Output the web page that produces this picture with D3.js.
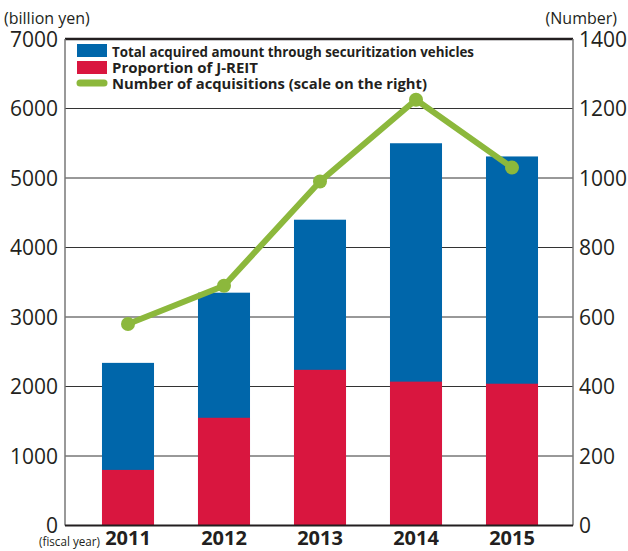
<!DOCTYPE html>
<html>
<head>
<meta charset="utf-8">
<script src="https://cdn.jsdelivr.net/npm/d3@7"></script>
<style>
  body { margin: 0; background: #fff; }
  text { font-family: "Open Sans", "Noto Sans", sans-serif; fill: #231f20; }
</style>
</head>
<body>
<div id="app"></div>
<script>
const years = ["2011", "2012", "2013", "2014", "2015"];
const totalAmount = [2340, 3350, 4400, 5500, 5310];
const jreitAmount = [800, 1550, 2240, 2070, 2040];
const acquisitions = [580, 690, 990, 1225, 1030];
const leftTicks = [0, 1000, 2000, 3000, 4000, 5000, 6000, 7000];
const rightTicks = [0, 200, 400, 600, 800, 1000, 1200, 1400];
const legendLabels = [
  "Total acquired amount through securitization vehicles",
  "Proportion of J-REIT",
  "Number of acquisitions (scale on the right)"
];

const width = 628, height = 551;
const plotLeft = 65, plotRight = 573, plotTop = 39, plotBottom = 525.5;
const blue = "#0066aa", red = "#d9163f", green = "#8cb83c";

const svg = d3.select("#app").append("svg")
  .attr("width", width).attr("height", height);

const x = d3.scaleBand().domain(years).range([80, 560])
  .paddingInner(0.458).paddingOuter(0.229);
const y = d3.scaleLinear().domain([0, 7000]).range([plotBottom, plotTop]);
const y2 = d3.scaleLinear().domain([0, 1400]).range([plotBottom, plotTop]);

// gridlines
svg.append("g").selectAll("line")
  .data(leftTicks.filter(d => d > 0 && d < 7000))
  .join("line")
  .attr("x1", plotLeft).attr("x2", plotRight)
  .attr("y1", d => y(d)).attr("y2", d => y(d))
  .attr("stroke", "#333").attr("stroke-width", 1);

// bars
const bars = svg.append("g");
bars.selectAll("rect.total").data(years).join("rect")
  .attr("class", "total")
  .attr("x", d => x(d)).attr("width", x.bandwidth())
  .attr("y", (d, i) => y(totalAmount[i]))
  .attr("height", (d, i) => y(0) - y(totalAmount[i]))
  .attr("fill", blue);
bars.selectAll("rect.jreit").data(years).join("rect")
  .attr("class", "jreit")
  .attr("x", d => x(d)).attr("width", x.bandwidth())
  .attr("y", (d, i) => y(jreitAmount[i]))
  .attr("height", (d, i) => y(0) - y(jreitAmount[i]))
  .attr("fill", red);

// frame
svg.append("line").attr("x1", plotLeft).attr("x2", plotRight).attr("y1", plotTop).attr("y2", plotTop)
  .attr("stroke", "#231f20").attr("stroke-width", 2.5);
svg.append("line").attr("x1", plotLeft).attr("x2", plotLeft).attr("y1", plotTop).attr("y2", plotBottom)
  .attr("stroke", "#777").attr("stroke-width", 1.5);
svg.append("line").attr("x1", plotRight).attr("x2", plotRight).attr("y1", plotTop).attr("y2", plotBottom)
  .attr("stroke", "#777").attr("stroke-width", 1.5);
svg.append("line").attr("x1", plotLeft).attr("x2", plotRight).attr("y1", plotBottom).attr("y2", plotBottom)
  .attr("stroke", "#231f20").attr("stroke-width", 2);

// axes
const leftAxis = svg.append("g").attr("transform", `translate(${plotLeft},0)`)
  .call(d3.axisLeft(y).tickValues(leftTicks).tickSize(0).tickPadding(7).tickFormat(d3.format("d")));
const rightAxis = svg.append("g").attr("transform", `translate(${plotRight},0)`)
  .call(d3.axisRight(y2).tickValues(rightTicks).tickSize(0).tickPadding(6).tickFormat(d3.format("d")));
[leftAxis, rightAxis].forEach(a => {
  a.select(".domain").remove();
  a.selectAll("text").attr("font-size", 21).attr("font-family", null).attr("dy", "0.35em");
});

const xAxis = svg.append("g").attr("transform", `translate(0,${plotBottom})`)
  .call(d3.axisBottom(x).tickSize(0).tickPadding(0));
xAxis.select(".domain").remove();
xAxis.selectAll("text").attr("font-size", 20).attr("font-weight", "bold")
  .attr("font-family", null).attr("y", 0).attr("dy", 19.5);

// line
const line = d3.line().x((d, i) => x(years[i]) + x.bandwidth() / 2).y(d => y2(d));
svg.append("path").datum(acquisitions)
  .attr("d", line).attr("fill", "none")
  .attr("stroke", green).attr("stroke-width", 6).attr("stroke-linejoin", "round");
svg.append("g").selectAll("circle").data(acquisitions).join("circle")
  .attr("cx", (d, i) => x(years[i]) + x.bandwidth() / 2)
  .attr("cy", d => y2(d)).attr("r", 7).attr("fill", green);

// unit labels
svg.append("text").attr("x", 4).attr("y", 24).attr("font-size", 16).text("(billion yen)");
svg.append("text").attr("x", 617).attr("y", 24).attr("font-size", 16)
  .attr("text-anchor", "end").text("(Number)");
svg.append("text").attr("x", 39).attr("y", 546).attr("font-size", 13)
  .attr("textLength", 61).attr("lengthAdjust", "spacingAndGlyphs").text("(fiscal year)");

// legend
const legend = svg.append("g");
legend.append("rect").attr("x", 77).attr("y", 44).attr("width", 30).attr("height", 13).attr("fill", blue);
legend.append("rect").attr("x", 77).attr("y", 61).attr("width", 30).attr("height", 13).attr("fill", red);
legend.append("line").attr("x1", 80).attr("x2", 104).attr("y1", 83).attr("y2", 83)
  .attr("stroke", green).attr("stroke-width", 7).attr("stroke-linecap", "round");
legend.selectAll("text").data(legendLabels).join("text")
  .attr("x", 112).attr("y", (d, i) => 56.5 + i * 16)
  .attr("font-size", 14).attr("font-weight", "bold")
  .attr("textLength", (d, i) => [362, 146, 315][i]).attr("lengthAdjust", "spacingAndGlyphs")
  .text(d => d);
</script>
</body>
</html>
